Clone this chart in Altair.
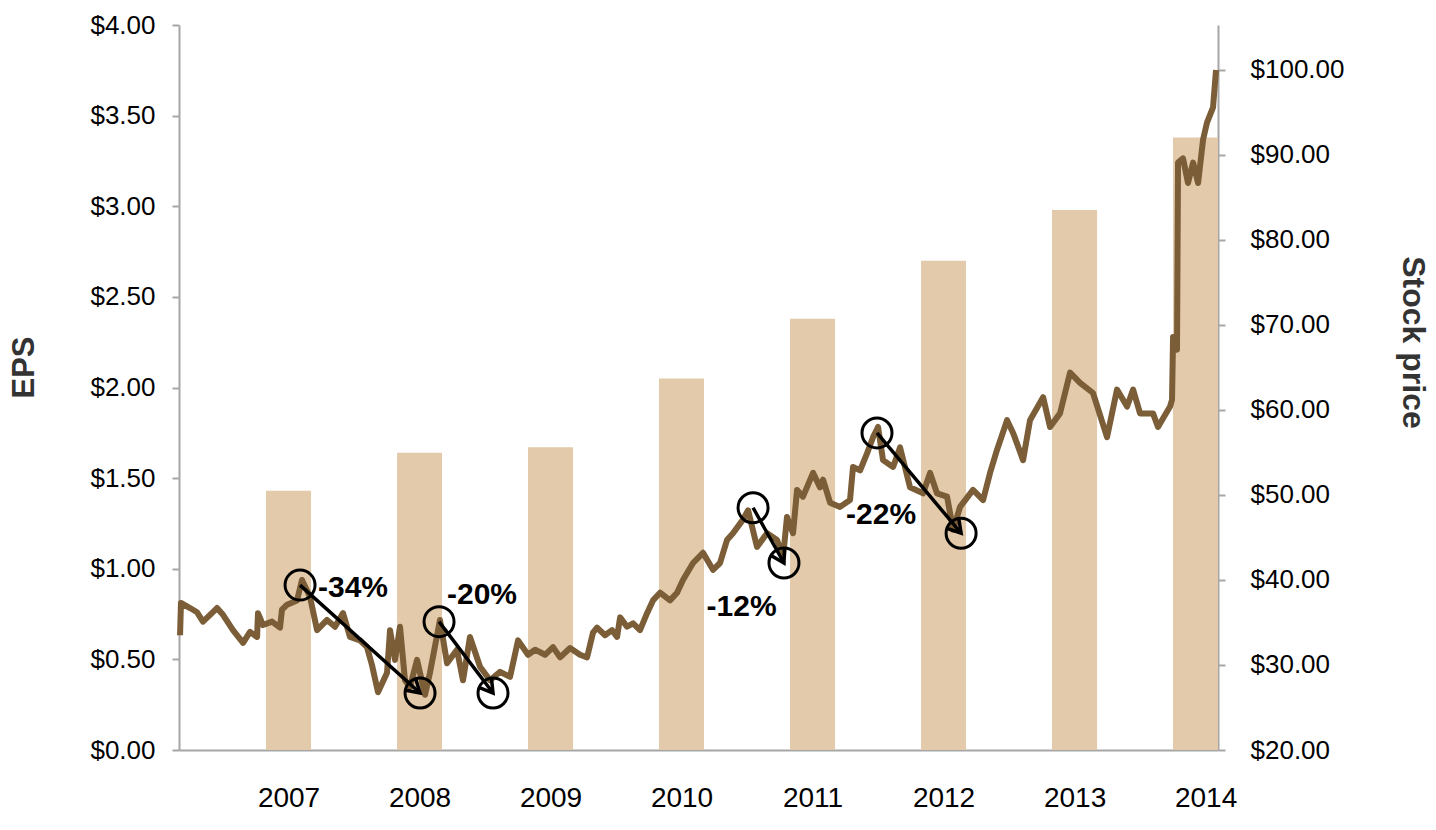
import math
import altair as alt
import pandas as pd

# ---------------- data ----------------
years = [2007, 2008, 2009, 2010, 2011, 2012, 2013, 2014]
eps = [1.43, 1.64, 1.67, 2.05, 2.38, 2.70, 2.98, 3.38]

stock_t = [2006.172, 2006.179, 2006.248, 2006.302, 2006.347, 2006.401, 2006.454, 2006.500,
           2006.576, 2006.653, 2006.706, 2006.760, 2006.767, 2006.805, 2006.874, 2006.935,
           2006.950, 2006.989, 2007.065, 2007.103, 2007.164, 2007.218, 2007.294, 2007.355,
           2007.416, 2007.469, 2007.546, 2007.599, 2007.637, 2007.683, 2007.752, 2007.775,
           2007.813, 2007.851, 2007.889, 2007.927, 2007.981, 2008.042, 2008.080, 2008.156,
           2008.210, 2008.286, 2008.332, 2008.385, 2008.462, 2008.538, 2008.615, 2008.691,
           2008.752, 2008.828, 2008.882, 2008.958, 2009.019, 2009.073, 2009.149, 2009.225,
           2009.279, 2009.324, 2009.355, 2009.416, 2009.469, 2009.508, 2009.531, 2009.584,
           2009.630, 2009.683, 2009.737, 2009.782, 2009.836, 2009.912, 2009.966, 2010.011,
           2010.088, 2010.164, 2010.240, 2010.294, 2010.347, 2010.393, 2010.469, 2010.508,
           2010.576, 2010.653, 2010.729, 2010.775, 2010.805, 2010.851, 2010.882, 2010.927,
           2011.004, 2011.057, 2011.080, 2011.134, 2011.210, 2011.286, 2011.309, 2011.363,
           2011.416, 2011.462, 2011.500, 2011.538, 2011.615, 2011.668, 2011.744, 2011.844,
           2011.897, 2011.950, 2012.027, 2012.073, 2012.126, 2012.225, 2012.302, 2012.355,
           2012.408, 2012.485, 2012.531, 2012.607, 2012.660, 2012.760, 2012.813, 2012.889,
           2012.966, 2013.042, 2013.141, 2013.248, 2013.324, 2013.401, 2013.447, 2013.500,
           2013.599, 2013.637, 2013.729, 2013.744, 2013.752, 2013.782, 2013.790, 2013.828,
           2013.866, 2013.905, 2013.943, 2013.981, 2014.011, 2014.057, 2014.080]
stock_p = [33.5, 37.3, 36.7, 36.2, 35.1, 35.9, 36.7, 35.9,
           34.1, 32.6, 33.9, 33.3, 36.1, 34.7, 35.1, 34.4,
           36.5, 37.1, 37.6, 40.0, 38.0, 34.1, 35.3, 34.5,
           36.1, 33.3, 32.9, 32.1, 30.0, 26.8, 29.1, 34.1,
           30.6, 34.5, 28.2, 27.4, 30.6, 26.5, 29.1, 35.3,
           30.2, 31.8, 28.2, 33.3, 29.8, 28.2, 29.2, 28.6,
           32.9, 31.2, 31.8, 31.2, 32.1, 30.9, 32.0, 31.2,
           30.9, 33.8, 34.4, 33.5, 34.1, 33.3, 35.6, 34.5,
           34.9, 34.1, 36.1, 37.6, 38.5, 37.6, 38.5, 40.0,
           42.0, 43.2, 41.2, 42.0, 44.7, 45.5, 47.1, 48.2,
           43.9, 45.5, 44.7, 42.7, 47.4, 45.5, 50.6, 49.8,
           52.6, 50.9, 51.8, 49.1, 48.6, 49.4, 53.3, 52.9,
           54.9, 56.8, 58.0, 54.1, 53.3, 55.6, 50.9, 50.2,
           52.6, 50.2, 49.8, 45.9, 48.6, 50.6, 49.4, 52.6,
           55.3, 58.8, 57.3, 54.1, 58.8, 61.5, 58.0, 59.6,
           64.4, 63.2, 62.0, 56.8, 62.4, 60.4, 62.4, 59.6,
           59.6, 58.0, 60.4, 61.2, 68.6, 67.1, 89.1, 89.6,
           86.7, 89.1, 86.7, 91.8, 93.8, 95.6, 100.0]

# annotation circles (start/end of each drawdown)
circle_t = [2007.088, 2008.004, 2008.149, 2008.561, 2010.546, 2010.782, 2011.492, 2012.134]
circle_p = [39.4, 26.7, 35.1, 26.7, 48.5, 42.0, 57.3, 45.5]
drop_labels = ["-34%", "-20%", "-12%", "-22%"]
label_t = [2007.492, 2008.477, 2010.458, 2011.523]
label_p = [39.06, 38.24, 36.82, 47.65]

# ---------------- layout ----------------
X_MIN, X_MAX = 2006.164, 2014.095
EPS_MAX = 4.0
P_MIN, P_MAX = 20.0, 105.29
W, H = 1039, 725
BAR_PX = 45
px_per_year = W / (X_MAX - X_MIN)
px_per_dollar = H / (P_MAX - P_MIN)
half_bar = BAR_PX / 2 / px_per_year

FONT = "Liberation Sans"
LINE_C = "#7B5D37"
BAR_C = "#E2CAAA"
AX_C = "#A6A6A6"

bars_df = pd.DataFrame({"year": years, "eps": eps})
stock_df = pd.DataFrame({"t": stock_t, "price": stock_p})
circ_df = pd.DataFrame({"t": circle_t, "price": circle_p})

arr_rows = []
for i in range(0, len(circle_t), 2):
    t1, p1, t2, p2 = circle_t[i], circle_p[i], circle_t[i + 1], circle_p[i + 1]
    dx = (t2 - t1) * px_per_year
    dy = -(p2 - p1) * px_per_dollar
    ang = math.degrees(math.atan2(dx, -dy)) % 360
    arr_rows.append({"t1": t1, "p1": p1, "t2": t2, "p2": p2, "ang": ang})
arr_df = pd.DataFrame(arr_rows)
lab_df = pd.DataFrame({"t": label_t, "price": label_p, "txt": drop_labels})

xscale = alt.Scale(domain=[X_MIN, X_MAX], nice=False, zero=False)
pscale = alt.Scale(domain=[P_MIN, P_MAX], nice=False, zero=False)


def x_axis():
    return alt.Axis(values=years, labelExpr="format(datum.value, 'd')", ticks=False, tickSize=0,
                    grid=False, labelFontSize=28, labelFont=FONT, labelColor="black",
                    labelBaseline="middle", labelPadding=48, domainColor=AX_C, domainWidth=2,
                    title=None)


bars = alt.Chart(bars_df).transform_calculate(
    c=f"min(datum.year, {X_MAX} - {half_bar})", base="0"
).transform_calculate(
    lo=f"datum.c - {half_bar}", hi=f"datum.c + {half_bar}"
).mark_bar(color=BAR_C).encode(
    x=alt.X("lo:Q", scale=xscale, axis=x_axis()),
    x2="hi:Q",
    y=alt.Y("eps:Q", scale=alt.Scale(domain=[0, EPS_MAX], nice=False),
            axis=alt.Axis(orient="left", values=[0, 0.5, 1, 1.5, 2, 2.5, 3, 3.5, 4],
                          format="$.2f", grid=False, labelFontSize=26, labelFont=FONT,
                          labelColor="black", labelPadding=17, tickSize=7, tickWidth=2,
                          tickColor=AX_C, domainColor=AX_C, domainWidth=2,
                          title="EPS", titleFont=FONT, titleFontSize=31, titleFontWeight="bold",
                          titleColor="#333333", titleX=-155, titleY=342, titleAngle=270,
                          titleAlign="center", titleBaseline="middle")),
    y2="base:Q",
)

line = alt.Chart(stock_df).mark_line(color=LINE_C, strokeWidth=6, strokeJoin="round").encode(
    x=alt.X("t:Q", scale=xscale, axis=x_axis()),
    y=alt.Y("price:Q", scale=pscale,
            axis=alt.Axis(orient="right", values=[20, 30, 40, 50, 60, 70, 80, 90, 100],
                          format="$.2f", grid=False, labelFontSize=26, labelFont=FONT,
                          labelColor="black", labelPadding=25, tickSize=7, tickWidth=2,
                          tickColor=AX_C, domainColor=AX_C, domainWidth=2,
                          title="Stock price", titleFont=FONT, titleFontSize=32,
                          titleFontWeight="bold", titleColor="#333333", titleX=194, titleY=317,
                          titleAngle=90, titleAlign="center", titleBaseline="middle")),
    order="t:Q",
)

arrows = alt.Chart(arr_df).mark_rule(color="black", strokeWidth=3.5).encode(
    x=alt.X("t1:Q", scale=xscale, axis=x_axis()), x2="t2:Q",
    y=alt.Y("p1:Q", scale=pscale, axis=None), y2="p2:Q",
)

heads = alt.Chart(arr_df).mark_point(shape="M -0.6 1 L 0 0 L 0.6 1", filled=False, size=750,
                                     strokeWidth=3.5, color="black", opacity=1).encode(
    x=alt.X("t2:Q", scale=xscale, axis=x_axis()),
    y=alt.Y("p2:Q", scale=pscale, axis=None),
    angle=alt.Angle("ang:Q", scale=None),
)

circles = alt.Chart(circ_df).mark_point(shape="circle", filled=False, size=900, strokeWidth=3,
                                        color="black", opacity=1).encode(
    x=alt.X("t:Q", scale=xscale, axis=x_axis()),
    y=alt.Y("price:Q", scale=pscale, axis=None),
)

labels = alt.Chart(lab_df).mark_text(font=FONT, fontSize=30, fontWeight="bold", color="black",
                                     align="center", baseline="middle").encode(
    x=alt.X("t:Q", scale=xscale, axis=x_axis()),
    y=alt.Y("price:Q", scale=pscale, axis=None),
    text="txt:N",
)

chart = alt.layer(bars, line, arrows, heads, circles, labels).resolve_scale(
    y="independent"
).properties(
    width=W, height=H,
    autosize=alt.AutoSizeParams(type="none"),
    padding={"left": 179, "top": 25, "right": 218, "bottom": 80},
    background="white",
).configure_view(strokeWidth=0)

chart.save("out.html", embed_options={"renderer": "svg", "actions": False})
